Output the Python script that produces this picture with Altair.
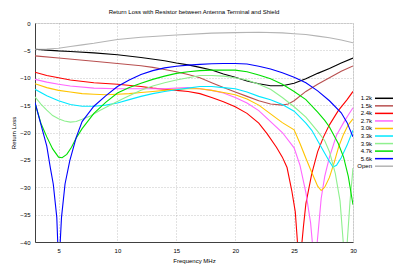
import altair as alt
import pandas as pd

series_names = ["1.2k", "1.5k", "2.4k", "2.7k", "3.0k", "3.3k", "3.9k", "4.7k", "5.6k", "Open"]
series_colors = ["#000000", "#b85050", "#ff0000", "#ff66ff", "#ffc400", "#00e8ff",
                 "#8ff08f", "#00e000", "#0000ff", "#b4b4b4"]

f_12k = [3, 4, 5, 6, 8, 10, 12, 14, 15, 16, 17, 18, 19, 20, 21, 22, 23, 24, 25, 26, 27, 28, 29, 30]
db_12k = [-4.8, -4.95, -5.1, -5.2, -5.45, -5.8, -6.3, -6.9, -7.3, -7.65, -8.1, -8.6, -9.3, -9.9,
          -10.6, -11.1, -11.45, -11.45, -11.0, -10.2, -9.2, -8.3, -7.3, -6.4]

f_15k = [3, 5, 8, 10, 12, 13, 14, 15, 16, 17, 18, 19, 20, 21, 22, 23, 24, 24.5, 25, 26, 27, 28, 29, 30]
db_15k = [-6.0, -6.4, -7.0, -7.4, -7.8, -8.1, -8.5, -8.9, -9.4, -10.0, -10.9, -11.8, -12.6, -13.4,
          -14.2, -14.8, -15.0, -14.8, -14.2, -12.5, -11.2, -10.0, -8.8, -7.85]

f_24k = [3, 4, 5, 6, 8, 10, 12, 13, 14, 15, 16, 17, 18, 19, 20, 21, 22, 22.7, 23.5, 24, 24.4,
         24.8, 25.1, 25.45, 25.8, 26.0, 26.5, 27, 27.5, 28, 28.75, 29.5, 30]
db_24k = [-9.0, -9.6, -10.0, -10.4, -10.9, -11.2, -11.6, -11.9, -12.1, -12.3, -12.5, -12.9, -13.6,
          -14.4, -15.3, -16.5, -18.3, -20.2, -22.7, -24.5, -26.4, -30.6, -34.5, -45, -37, -33,
          -27.5, -23.5, -20.8, -18.6, -16.0, -14.0, -12.5]

f_27k = [3, 4, 5, 6, 8, 10, 12, 14, 15, 16, 17, 18, 19, 20, 21, 22, 23, 24, 25, 25.5, 26, 26.4,
         26.75, 27.05, 27.3, 27.6, 28.0, 28.6, 29.2, 29.6, 30]
db_27k = [-10.3, -10.8, -11.2, -11.5, -11.9, -12.0, -12.0, -12.0, -11.9, -11.8, -12.0, -12.3, -12.8,
          -13.6, -14.6, -16.0, -18.0, -20.0, -22.8, -26.0, -31.0, -36.5, -45, -38, -32, -28,
          -24.5, -20.5, -18.2, -16.8, -15.5]

f_30k = [3, 4, 5, 6, 7, 8, 9, 10, 11, 12, 13, 14, 15, 16, 17, 18, 19, 20, 21, 22, 23, 24, 25,
         25.5, 26, 26.5, 27, 27.3, 27.6, 28, 28.4, 28.8, 29.2, 29.6, 30]
db_30k = [-11.1, -11.8, -12.3, -12.6, -12.9, -13.0, -13.1, -13.0, -12.9, -12.7, -12.5, -12.3, -12.1,
          -12.0, -12.0, -12.3, -12.7, -13.1, -13.9, -15.0, -16.6, -18.2, -19.5, -22.0, -24.7,
          -27.3, -29.8, -30.6, -30.0, -28.2, -25.5, -22.5, -20.3, -18.6, -17.5]

f_33k = [3, 4, 5, 6, 7, 8, 9, 10, 11, 12, 13, 14, 15, 16, 17, 18, 19, 20, 21, 22, 23, 24, 25, 26,
         26.5, 27, 27.6, 28, 28.3, 28.6, 29, 29.5, 30]
db_33k = [-12.1, -13.3, -14.2, -14.9, -15.2, -15.2, -15.0, -14.6, -14.0, -13.4, -12.9, -12.5, -12.2,
          -11.9, -11.6, -11.6, -11.8, -12.0, -12.6, -13.4, -14.0, -14.9, -16.1, -18.3, -19.6,
          -21.5, -23.8, -25.3, -26.3, -26.0, -24.6, -22.3, -19.6]

f_39k = [3, 3.5, 4, 4.5, 5, 5.5, 6, 6.5, 7, 7.7, 8.5, 9.65, 10.5, 11, 12, 13, 14, 15, 16, 17, 18,
         19, 20, 21, 22, 23, 24, 25, 26, 27, 27.6, 28, 28.5, 28.9, 29.35, 29.75, 30]
db_39k = [-13.5, -14.8, -15.9, -16.9, -17.5, -17.9, -18.1, -18.0, -17.6, -17.0, -16.0, -14.7, -13.8,
          -13.3, -12.3, -11.5, -10.9, -10.4, -10.0, -9.6, -9.6, -9.7, -10.0, -10.4, -11.2, -12.1,
          -13.6, -15.3, -17.2, -19.8, -21.5, -23.5, -27.5, -32.5, -45, -32.5, -26.5]

f_47k = [3, 3.5, 4, 4.5, 5, 5.3, 5.7, 6.1, 6.5, 7, 8, 9, 10, 11, 12, 13, 14, 15, 16, 17, 18, 19,
         20, 21, 22, 23, 24, 25, 26, 27, 27.6, 28, 28.75, 29.2, 29.6, 30]
db_47k = [-14.6, -18.3, -20.8, -23.0, -24.5, -24.6, -24.0, -22.7, -21.0, -19.3, -16.5, -14.5, -12.8,
          -11.8, -11.0, -10.3, -9.7, -9.2, -8.9, -8.7, -8.6, -8.6, -8.6, -8.9, -9.5, -10.2, -11.2,
          -12.5, -14.0, -16.3, -17.8, -19.0, -22.0, -24.5, -28.0, -33.2]

f_56k = [3, 3.5, 4, 4.3, 4.55, 4.85, 5.02, 5.25, 5.55, 5.95, 6.5, 7, 8, 9, 10, 11, 12, 13, 14, 15,
         16, 17, 18, 19, 20, 21, 22, 23, 24, 25, 26, 27, 28, 29, 29.5, 30]
db_56k = [-14.5, -18.5, -22.5, -26.4, -29.4, -35.5, -45, -35.5, -29.4, -25.2, -20.9, -18.0, -15.2,
          -13.3, -11.6, -10.4, -9.4, -8.7, -8.2, -7.9, -7.7, -7.55, -7.45, -7.4, -7.4, -7.5, -7.9,
          -8.4, -9.1, -9.9, -10.9, -12.4, -14.2, -16.4, -18.2, -20.8]

f_open = [3, 4, 5, 6, 7, 8, 10, 12, 15, 18, 20, 22, 24, 25, 26, 27, 28, 29, 30]
db_open = [-4.8, -4.75, -4.6, -4.3, -4.0, -3.7, -3.0, -2.6, -2.2, -1.85, -1.75, -1.7, -1.8, -1.95,
           -2.1, -2.4, -2.7, -3.1, -3.6]

x_ticks = [5, 10, 15, 20, 25, 30]
y_ticks = [-40, -35, -30, -25, -20, -15, -10, -5, 0]

all_f = [f_12k, f_15k, f_24k, f_27k, f_30k, f_33k, f_39k, f_47k, f_56k, f_open]
all_db = [db_12k, db_15k, db_24k, db_27k, db_30k, db_33k, db_39k, db_47k, db_56k, db_open]

rows = []
for name, fs, dbs in zip(series_names, all_f, all_db):
    for i, (fv, dv) in enumerate(zip(fs, dbs)):
        rows.append({"series": name, "f": fv, "db": dv, "i": i})
df = pd.DataFrame(rows)
legend_df = pd.DataFrame({"series": series_names})

FONT = "Liberation Sans"
color_scale = alt.Scale(domain=series_names, range=series_colors)
axis_common = dict(grid=True, ticks=False, domain=True, domainColor="#404040", domainWidth=1,
                   labelFontSize=6, titleFontSize=6,
                   titleFontWeight="normal", labelFont=FONT, titleFont=FONT,
                   labelColor="#000", titleColor="#000", gridColor="#a0a0a0",
                   gridDash=[1, 2], gridWidth=0.6, labelFlush=False)

lines = alt.Chart(df).mark_line(clip=True, strokeWidth=1.1).encode(
    x=alt.X("f:Q", scale=alt.Scale(domain=[3, 30], nice=False, zero=False),
            axis=alt.Axis(values=x_ticks, title="Frequency MHz", labelPadding=5,
                          titlePadding=4, **axis_common)),
    y=alt.Y("db:Q", scale=alt.Scale(domain=[-40, 0], nice=False, zero=False),
            axis=alt.Axis(values=y_ticks, title="Return Loss", labelPadding=5,
                          titlePadding=3, **axis_common)),
    color=alt.Color("series:N", scale=color_scale, legend=None),
    order=alt.Order("i:Q"),
)

# legend (gnuplot style: label, then line sample), rows placed by a point scale
legend_y = alt.Y("series:N", scale=alt.Scale(type="point", domain=series_names,
                                             range=[75.3, 143.2], padding=0), axis=None)
legend_lines = alt.Chart(legend_df).mark_rule(strokeWidth=1.5).encode(
    y=legend_y, x=alt.value(340), x2=alt.value(358),
    color=alt.Color("series:N", scale=color_scale, legend=None),
)
legend_text = alt.Chart(legend_df).mark_text(align="right", baseline="middle", fontSize=6,
                                             font=FONT, color="#000").encode(
    y=legend_y, x=alt.value(337), text="series:N",
)

chart = alt.layer(lines, legend_lines, legend_text).resolve_scale(
    y="independent"
).properties(
    width=318,
    height=219,
    title=alt.TitleParams("Return Loss with Resistor between Antenna Terminal and Shield",
                          fontSize=6, font=FONT, fontWeight="normal", color="#000",
                          anchor="middle", offset=5),
    padding={"left": 35, "top": 23, "right": 47, "bottom": 25},
    autosize="none",
).configure_view(stroke="#999999", strokeWidth=1).configure(background="white")

chart.save("out.html", embed_options={"renderer": "svg", "actions": False})
